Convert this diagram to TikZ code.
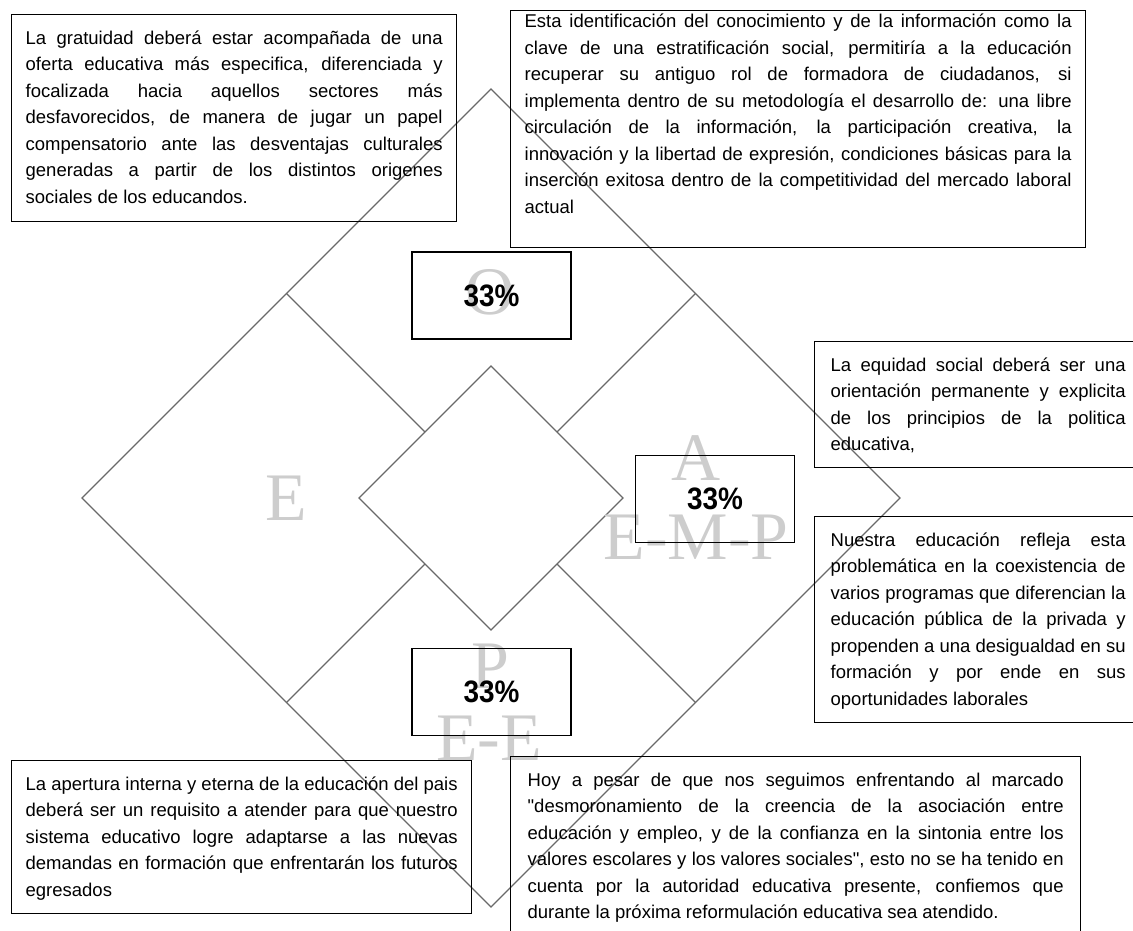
\documentclass[tikz,border=0pt]{standalone}
\usepackage{fontspec}
\setmainfont{Liberation Sans}
\newfontfamily\txtfont{Liberation Sans}
\newfontfamily\wmfont{Liberation Serif}
\newfontfamily\pctfont[FakeStretch=0.9]{Liberation Sans}
\usetikzlibrary{calc}
\definecolor{diamline}{RGB}{105,105,105}
\definecolor{wmgray}{RGB}{205,205,205}
\tikzset{
  diam/.style={draw=diamline, line width=1.2pt},
  txtbox/.style={draw=black, line width=1.3pt, inner sep=0pt, anchor=north west,
    font=\txtfont\fontsize{18.5}{26.5}\selectfont},
  pctbox/.style={draw=black, line width=1.3pt, inner sep=0pt, minimum width=159pt,
    minimum height=87pt, font=\pctfont\bfseries\fontsize{31}{31}\selectfont},
  wm/.style={text=wmgray, inner sep=0pt, font=\wmfont\fontsize{68}{68}\selectfont},
}
% #1 box width, #2 box height, #3 side padding, #4 top to first baseline, #5 text
\newcommand\boxtext[5]{%
  \parbox[c][#2pt][t]{#1pt}{\hspace*{#3pt}\parbox[t]{\dimexpr#1pt-#3pt*2\relax}{\rule{0pt}{#4pt}#5}}}
\newcommand\jl[1]{\makebox[\linewidth][s]{#1}\\}
\begin{document}
\begin{tikzpicture}[x=1pt,y=-1pt]
\useasboundingbox (0,0) rectangle (1133,930);
\clip (0,0) rectangle (1133,930);
% diamonds
\coordinate (T) at (491,89);
\coordinate (L) at (82,498);
\coordinate (R) at (900,498);
\coordinate (B) at (491,907);
\coordinate (iT) at (491,366);
\coordinate (iL) at (359,498);
\coordinate (iR) at (623,498);
\coordinate (iB) at (491,630);
\coordinate (mTL) at ($(T)!.5!(L)$);
\coordinate (mTR) at ($(T)!.5!(R)$);
\coordinate (mBL) at ($(B)!.5!(L)$);
\coordinate (mBR) at ($(B)!.5!(R)$);
\coordinate (nTL) at ($(iT)!.5!(iL)$);
\coordinate (nTR) at ($(iT)!.5!(iR)$);
\coordinate (nBL) at ($(iB)!.5!(iL)$);
\coordinate (nBR) at ($(iB)!.5!(iR)$);
\draw[diam] (T) -- (R) -- (B) -- (L) -- cycle;
\draw[diam] (iT) -- (iR) -- (iB) -- (iL) -- cycle;
\draw[diam] (mTL) -- (nTL);
\draw[diam] (mTR) -- (nTR);
\draw[diam] (mBL) -- (nBL);
\draw[diam] (mBR) -- (nBR);
% watermark letters
\node[wm] (wE) at (286,498) {E};
\node[wm] (wO) at (490,292) {O};
\node[wm] (wA) at (696,458) {A};
\node[wm] (wEMP) at (696,537) {E-M-P};
\node[wm] (wP) at (490,666) {P};
\node[wm] (wEE) at (489,738) {E-E};
% percentage boxes
\node[pctbox] (p1) at (491.5,295.5) {33\%};
\node[pctbox] (p2) at (715,499) {33\%};
\node[pctbox] (p3) at (491.5,692) {33\%};
% text boxes
\node[txtbox] (b1) at (11,14) {\boxtext{445}{207}{14}{29.5}{%
\jl{La gratuidad deberá estar acompañada de una}
\jl{oferta educativa más especifica, diferenciada y}
\jl{focalizada hacia aquellos sectores más}
\jl{desfavorecidos, de manera de jugar un papel}
\jl{compensatorio ante las desventajas culturales}
\jl{generadas a partir de los distintos origenes}
sociales de los educandos.}};
\node[txtbox] (b2) at (510,10) {\boxtext{575}{237}{14}{17.2}{%
\jl{Esta identificación del conocimiento y de la información como la}
\jl{clave de una estratificación social, permitiría a la educación}
\jl{recuperar su antiguo rol de formadora de ciudadanos, si}
\jl{implementa dentro de su metodología el desarrollo de: una libre}
\jl{circulación de la información, la participación creativa, la}
\jl{innovación y la libertad de expresión, condiciones básicas para la}
\jl{inserción exitosa dentro de la competitividad del mercado laboral}
actual}};
\node[txtbox] (b3) at (814,341) {\boxtext{327}{126}{16}{29.5}{%
\jl{La equidad social deberá ser una}
\jl{orientación permanente y explicita}
\jl{de los principios de la politica}
educativa,}};
\node[txtbox] (b4) at (814,516) {\boxtext{327}{206}{16}{29.5}{%
\jl{Nuestra educación refleja esta}
\jl{problemática en la coexistencia de}
\jl{varios programas que diferencian la}
\jl{educación pública de la privada y}
\jl{propenden a una desigualdad en su}
\jl{formación y por ende en sus}
oportunidades laborales}};
\node[txtbox] (b5) at (11,760) {\boxtext{460}{153}{14}{29.5}{%
\jl{La apertura interna y eterna de la educación del pais}
\jl{deberá ser un requisito a atender para que nuestro}
\jl{sistema educativo logre adaptarse a las nuevas}
\jl{demandas en formación que enfrentarán los futuros}
egresados}};
\node[txtbox] (b6) at (510,756) {\boxtext{570}{190}{17}{29.5}{%
\jl{Hoy a pesar de que nos seguimos enfrentando al marcado}
\jl{"desmoronamiento de la creencia de la asociación entre}
\jl{educación y empleo, y de la confianza en la sintonia entre los}
\jl{valores escolares y los valores sociales", esto no se ha tenido en}
\jl{cuenta por la autoridad educativa presente, confiemos que}
durante la próxima reformulación educativa sea atendido.}};
\end{tikzpicture}
\end{document}
